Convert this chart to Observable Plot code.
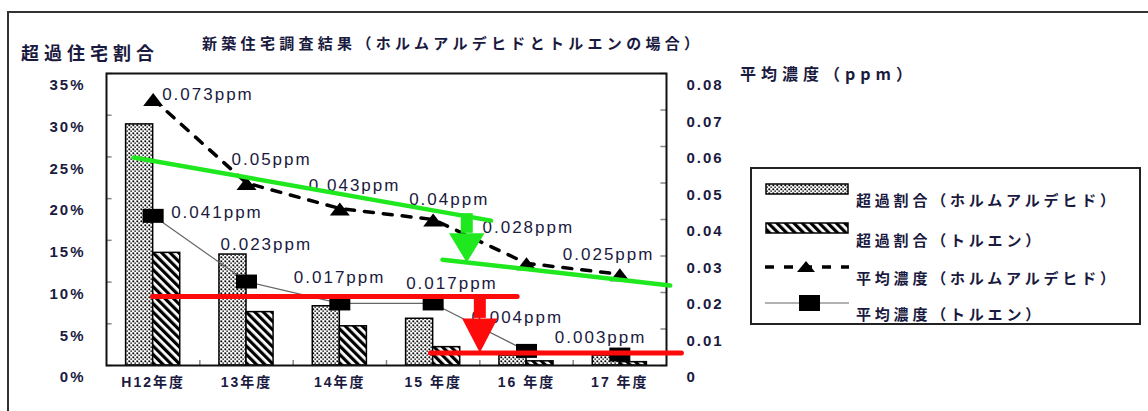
<!DOCTYPE html>
<html><head><meta charset="utf-8">
<script src="https://cdn.jsdelivr.net/npm/d3@7"></script>
<script src="https://cdn.jsdelivr.net/npm/@observablehq/plot@0.6"></script>
<style>
body{margin:0;background:#fff;}
#wrap{position:relative;width:1148px;height:411px;overflow:hidden;font-family:"Noto Sans CJK JP","Liberation Sans",sans-serif;color:#1a1a40;background:#fff;}
#wrap svg.plot{position:absolute;left:0;top:0;}
.t{position:absolute;white-space:nowrap;line-height:1;}
</style></head><body>
<svg width="0" height="0" style="position:absolute"><defs>
<pattern id="dots" patternUnits="userSpaceOnUse" width="4" height="4"><rect width="4" height="4" fill="#fff"/><rect x="0.4" y="0.4" width="1.8" height="1.8" fill="#000"/><rect x="2.4" y="2.4" width="1.5" height="1.5" fill="#222"/></pattern>
<pattern id="hatch" patternUnits="userSpaceOnUse" width="6" height="6" patternTransform="rotate(-45)"><rect width="6" height="6" fill="#fff"/><rect width="3.2" height="6" fill="#000"/></pattern>
</defs></svg>
<div id="wrap">
  <div class="t" style="left:21px;top:43px;font-size:18px;font-weight:bold;letter-spacing:5px;">超過住宅割合</div>
  <div class="t" style="left:202px;top:35px;font-size:15px;font-weight:bold;letter-spacing:4.3px;">新築住宅調査結果（ホルムアルデヒドとトルエンの場合）</div>
  <div class="t" style="left:740px;top:65px;font-size:16px;font-weight:bold;letter-spacing:5px;">平均濃度（ppm）</div>
</div>
<script>
// ---- data ----
const years = ["H12年度", "13年度", "14年度", "15 年度", "16 年度", "17 年度"];
const formPct = [28.9, 13.3, 7.1, 5.6, 1.2, 1.2];   // 超過割合（ホルムアルデヒド） %
const tolPct  = [13.5, 6.4, 4.7, 2.2, 0.5, 0.4];    // 超過割合（トルエン） %
const formPpm = [0.073, 0.05, 0.043, 0.04, 0.028, 0.025]; // 平均濃度（ホルムアルデヒド）
const tolPpm  = [0.041, 0.023, 0.017, 0.017, 0.004, 0.003]; // 平均濃度（トルエン）
const pctTicks = [0, 5, 10, 15, 20, 25, 30, 35];
const ppmTicks = [0, 0.01, 0.02, 0.03, 0.04, 0.05, 0.06, 0.07, 0.08];
const legendLabels = ["超過割合（ホルムアルデヒド）", "超過割合（トルエン）", "平均濃度（ホルムアルデヒド）", "平均濃度（トルエン）"];
// annotation guides (x in category index, y in ppm)
const greenGuides = [
  {x: -0.21, p: 0.057, g: 1}, {x: 3.62, p: 0.0397, g: 1},
  {x: 3.10, p: 0.029, g: 2}, {x: 5.54, p: 0.0219, g: 2}
];
const redGuides = [
  {x: -0.007, p: 0.0189, g: 1}, {x: 3.90, p: 0.0189, g: 1},
  {x: 2.97, p: 0.0034, g: 2}, {x: 5.66, p: 0.0034, g: 2}
];
const greenArrow = {x: 3.36, from: 0.0416, neck: 0.0362, to: 0.0282};
const redArrow = {x: 3.50, from: 0.0189, neck: 0.0129, to: 0.0035};

// ---- build ----
const K = 35 / 0.08; // ppm -> percent axis units
const rows = years.map((y, i) => ({i, year: y, fp: formPct[i], tp: tolPct[i],
  fm: formPpm[i] * K, tm: tolPpm[i] * K,
  fl: formPpm[i] + "ppm", tl: tolPpm[i] + "ppm"}));
const BW = 0.29;
const GREEN = "#1fe81f", RED = "#ff0a0a", INK = "#1a1a40";
const tri = {draw(c) { c.moveTo(0, -6); c.lineTo(10, 7); c.lineTo(-10, 7); c.closePath(); }};
const sq = {draw(c) { c.rect(-10.5, -7, 21, 14); }};
const fOff = [[9, -4.5], [-15, -23.5], [-31, -23], [-24, -20], [-44, -36], [-57, -20]];
const tOff = [[18, -3], [-26, -37], [-46, -26], [-27, -20], [-55, -33], [-65, -17]];
const HW = 0.19;
const head = (a) => [{x: a.x - HW, y: a.neck * K}, {x: a.x + HW, y: a.neck * K}, {x: a.x, y: a.to * K}];

const labelMarks = [];
rows.forEach((r, i) => {
  labelMarks.push(Plot.text([r], {x: "i", y: "fm", text: "fl", dx: fOff[i][0], dy: fOff[i][1], textAnchor: "start", fontSize: 17, fill: INK}));
  labelMarks.push(Plot.text([r], {x: "i", y: "tm", text: "tl", dx: tOff[i][0], dy: tOff[i][1], textAnchor: "start", fontSize: 17, fill: INK}));
});

const chart = Plot.plot({
  width: 1148, height: 411,
  marginLeft: 106, marginRight: 482, marginTop: 73, marginBottom: 46,
  x: {domain: [-0.5, 5.5]},
  y: {domain: [0, 35]},
  style: "font-family:'Liberation Sans',Arial,'Noto Sans CJK JP',sans-serif;letter-spacing:2px;color:#1a1a40;background:transparent;overflow:visible;",
  marks: [
    Plot.rectY(rows, {x1: d => d.i - BW, x2: d => d.i, y: "fp", fill: "url(#dots)", stroke: "#000", strokeWidth: 1.5}),
    Plot.rectY(rows, {x1: d => d.i, x2: d => d.i + BW, y: "tp", fill: "url(#hatch)", stroke: "#000", strokeWidth: 1.5}),
    Plot.ruleY(pctTicks, {y: d => d, x1: -0.5, x2: -0.44, stroke: "#888", strokeWidth: 1.5}),
    Plot.ruleY(ppmTicks, {y: d => d * K, x1: 5.44, x2: 5.5, stroke: "#888", strokeWidth: 1.5}),
    Plot.ruleX(years.slice(1), {x: (d, i) => i + 0.5, y1: 0, y2: 0.6, stroke: "#888", strokeWidth: 1.5}),
    Plot.line(rows, {x: "i", y: "tm", stroke: "#666", strokeWidth: 1.2}),
    Plot.line(rows, {x: "i", y: "fm", stroke: "#000", strokeWidth: 3.5, strokeDasharray: "9,10"}),
    Plot.dot(rows, {x: "i", y: "fm", symbol: tri, fill: "#000", stroke: "none"}),
    Plot.dot(rows, {x: "i", y: "tm", symbol: sq, fill: "#000", stroke: "none"}),
    ...labelMarks,
    Plot.axisY({anchor: "left", ticks: pctTicks, tickFormat: d => d + "%", tickSize: 0, tickPadding: 21, dy: 12, fontSize: 15, fontWeight: "bold", color: INK, label: null}),
    Plot.axisY({anchor: "right", ticks: ppmTicks.map(t => t * K), tickFormat: v => String(+(v / K).toFixed(2)), tickSize: 0, tickPadding: 20, dy: 12, fontSize: 15, fontWeight: "bold", color: INK, label: null}),
    Plot.axisX({anchor: "bottom", ticks: years.map((_, i) => i), tickFormat: i => years[i], tickSize: 0, tickPadding: 12, fontSize: 14, fontWeight: "bold", color: INK, label: null}),
    Plot.frame({stroke: "#111", strokeWidth: 2}),
    Plot.line(greenGuides, {x: "x", y: d => d.p * K, z: "g", stroke: GREEN, strokeWidth: 4.5}),
    Plot.ruleX([greenArrow], {x: "x", y1: d => d.from * K, y2: d => d.neck * K, stroke: GREEN, strokeWidth: 12}),
    Plot.line(head(greenArrow), {x: "x", y: "y", fill: GREEN, stroke: "none"}),
    Plot.line(redGuides, {x: "x", y: d => d.p * K, z: "g", stroke: RED, strokeWidth: 5}),
    Plot.ruleX([redArrow], {x: "x", y1: d => d.from * K, y2: d => d.neck * K, stroke: RED, strokeWidth: 12}),
    Plot.line(head(redArrow), {x: "x", y: "y", fill: RED, stroke: "none"})
  ]
});
const wrap = document.getElementById("wrap");
wrap.insertBefore(chart, wrap.firstChild);

// outer frame + legend
const ov = d3.select(wrap).append("svg").attr("width", 1148).attr("height", 411)
  .style("position", "absolute").style("left", 0).style("top", 0).style("pointer-events", "none");
ov.append("path").attr("d", "M8,411V12H1148").attr("fill", "none").attr("stroke", "#333").attr("stroke-width", 2);
ov.append("rect").attr("x", 751).attr("y", 168).attr("width", 389).attr("height", 156)
  .attr("fill", "#fff").attr("stroke", "#222").attr("stroke-width", 2);
ov.append("rect").attr("x", 766).attr("y", 184).attr("width", 82).attr("height", 10).attr("fill", "url(#dots)").attr("stroke", "#000").attr("stroke-width", 1.5);
ov.append("rect").attr("x", 766).attr("y", 223).attr("width", 82).attr("height", 10).attr("fill", "url(#hatch)").attr("stroke", "#000").attr("stroke-width", 1.5);
ov.append("line").attr("x1", 765).attr("x2", 849).attr("y1", 267).attr("y2", 267).attr("stroke", "#000").attr("stroke-width", 3.5).attr("stroke-dasharray", "9,10");
ov.append("path").attr("d", "M806,261L815,272H797Z").attr("fill", "#000");
ov.append("line").attr("x1", 765).attr("x2", 849).attr("y1", 303).attr("y2", 303).attr("stroke", "#666").attr("stroke-width", 1.2);
ov.append("rect").attr("x", 799).attr("y", 295).attr("width", 21).attr("height", 16).attr("fill", "#000");
const ly = [199, 239, 277, 313];
legendLabels.forEach((t, i) => {
  ov.append("text").attr("x", 856).attr("y", ly[i]).attr("dominant-baseline", "central")
    .attr("font-family", "'Noto Sans CJK JP',sans-serif").attr("font-size", 15).attr("font-weight", "bold")
    .attr("letter-spacing", "3.8px").attr("fill", INK).text(t);
});
</script>
</body></html>
